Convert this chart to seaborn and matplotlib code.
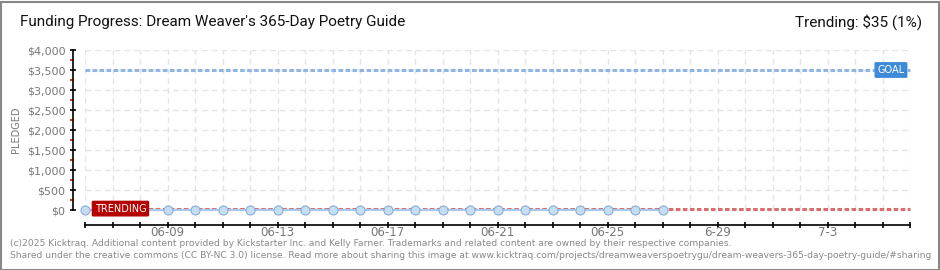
import matplotlib
matplotlib.use("Agg")
import matplotlib.pyplot as plt
import matplotlib.dates as mdates
from matplotlib.ticker import MultipleLocator, FixedLocator, FuncFormatter, NullFormatter
import seaborn as sns
import pandas as pd

# ---- data ----
dates = pd.date_range("2025-06-06", "2025-06-27", freq="D")
pledged = [0, 0, 0, 0, 0, 0, 0, 0, 0, 0, 0, 0, 0, 0, 0, 0, 0, 0, 0, 0, 0, 0]
goal = 3500
trending = 35
x_start = pd.Timestamp("2025-06-06")
x_end = pd.Timestamp("2025-07-06")
tick_label_dates = ["2025-06-09", "2025-06-13", "2025-06-17", "2025-06-21",
                    "2025-06-25", "2025-06-29", "2025-07-03"]
tick_labels = ["06-09", "06-13", "06-17", "06-21", "06-25", "6-29", "7-3"]
title = "Funding Progress: Dream Weaver's 365-Day Poetry Guide"
trend_text = "Trending: $35 (1%)"
footer1 = ("(c)2025 Kicktraq. Additional content provided by Kickstarter Inc. and Kelly Farner. "
           "Trademarks and related content are owned by their respective companies.")
footer2 = ("Shared under the creative commons (CC BY-NC 3.0) license. Read more about sharing this image at "
           "www.kicktraq.com/projects/dreamweaverspoetrygu/dream-weavers-365-day-poetry-guide/#sharing")

df = pd.DataFrame({"date": dates, "pledged": pledged})

sns.set_style("white")
plt.rcParams["font.family"] = ["DejaVu Sans"]

W, H = 940, 270
fig = plt.figure(figsize=(W / 100, H / 100), dpi=100)
ax = fig.add_axes([85 / W, 1 - 210 / H, 825 / W, 160 / H])

# grid
ax.set_xlim(x_start, x_end)
ax.set_ylim(0, 4000)
ax.xaxis.set_major_locator(mdates.DayLocator())
ax.xaxis.set_major_formatter(NullFormatter())
ax.yaxis.set_major_locator(MultipleLocator(500))
ax.yaxis.set_minor_locator(MultipleLocator(250))
ax.grid(True, which="major", color="#e4e4e4", linestyle=(0, (4, 3)), linewidth=1)
ax.set_axisbelow(True)

# goal & trending lines
ax.axhline(goal, color="#8fb6e2", linestyle=(0, (1.5, 0.8)), linewidth=2.2, zorder=2)
ax.axhline(trending, color="#d76e6e", linestyle=(0, (1.5, 0.8)), linewidth=2.2, zorder=2)

# pledged series
sns.lineplot(data=df, x="date", y="pledged", ax=ax, color="#a9c8ec", linewidth=1.5,
             marker="o", markersize=6.5, markerfacecolor="#c6ddf6",
             markeredgecolor="#8aaed6", markeredgewidth=0.8, zorder=3)
for ln in ax.lines:
    ln.set_clip_on(False)

# label boxes
ax.text(mdates.date2num(x_end) - 0.2, goal, "GOAL", color="white", fontsize=7,
        ha="right", va="center", zorder=5,
        bbox=dict(boxstyle="round,pad=0.3,rounding_size=0.15", fc="#3d8ad8", ec="none"))
ax.text(mdates.date2num(x_start) + 0.35, trending, "TRENDING", color="white", fontsize=7,
        ha="left", va="center", zorder=5,
        bbox=dict(boxstyle="round,pad=0.3,rounding_size=0.15", fc="#b50000", ec="none"))

# spines
for s in ["top", "right"]:
    ax.spines[s].set_visible(False)
ax.spines["left"].set_position(("outward", 9))
ax.spines["bottom"].set_position(("outward", 11))
for s in ["left", "bottom"]:
    ax.spines[s].set_color("black")
    ax.spines[s].set_linewidth(1.2)

ax.yaxis.set_major_formatter(FuncFormatter(lambda v, p: f"${int(v):,}"))
ax.tick_params(axis="y", which="both", left=True)
ax.tick_params(axis="x", which="both", bottom=True, labelbottom=True)
ax.tick_params(axis="y", which="major", direction="inout", length=4, width=1.2,
               color="black", labelsize=8, labelcolor="#777777", pad=3)
ax.tick_params(axis="y", which="minor", direction="out", length=2.5, width=1.2, color="#dd0000")

ax.tick_params(axis="x", which="major", direction="inout", length=4, width=1.2, color="black")
ax.xaxis.remove_overlapping_locs = False
ax.xaxis.set_minor_locator(FixedLocator(mdates.date2num(pd.to_datetime(tick_label_dates))))
ax.xaxis.set_minor_formatter(FuncFormatter(
    lambda v, p: tick_labels[p] if p is not None and p < len(tick_labels) else ""))
ax.tick_params(axis="x", which="minor", length=0, labelsize=8.5, labelcolor="#777777", pad=0.8)

ax.set_xlabel("")
ax.set_ylabel("PLEDGED", fontsize=7, color="#777777")
ax.yaxis.set_label_coords(-(85 - 21) / 825, 0.5)

# title texts
fig.text(20 / W, 1 - 22 / H, title, fontsize=11, color="#111111", va="center", ha="left",
         family=["Roboto", "DejaVu Sans"])
fig.text(922 / W, 1 - 22 / H, trend_text, fontsize=11, color="#111111", va="center", ha="right",
         family=["Roboto", "DejaVu Sans"])
fig.text(10 / W, 1 - 243 / H, footer1, fontsize=6.6, color="#888888", va="center", ha="left")
fig.text(10 / W, 1 - 256 / H, footer2, fontsize=6.6, color="#888888", va="center", ha="left")

# outer border
fig.patches.append(plt.Rectangle((0.5 / W, 0.5 / H), 1 - 2 / W, 1 - 2 / H, transform=fig.transFigure,
                                 fill=False, ec="#888888", lw=1.5))

fig.savefig("out.png", dpi=100, facecolor="white")
